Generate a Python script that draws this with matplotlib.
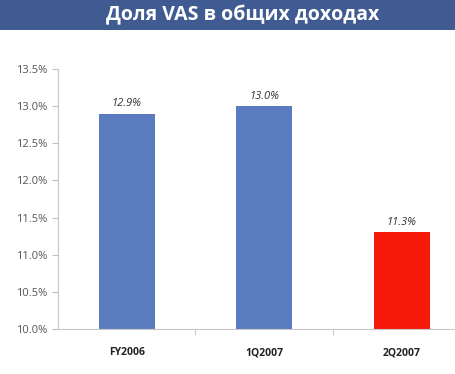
import matplotlib
matplotlib.use("Agg")
import matplotlib.pyplot as plt
from matplotlib.patches import Rectangle

categories = ["FY2006", "1Q2007", "2Q2007"]
values = [12.9, 13.0, 11.3]
value_labels = ["12.9%", "13.0%", "11.3%"]
bar_colors = ["#5A7BBD", "#5A7BBD", "#F51A08"]
yticks = [10.0, 10.5, 11.0, 11.5, 12.0, 12.5, 13.0, 13.5]
title = "Доля VAS в общих доходах"

W, H = 456, 374
fig = plt.figure(figsize=(W / 100, H / 100), dpi=100)
fig.patch.set_facecolor("white")

# title banner
fig.patches.append(Rectangle((0, 1 - 30 / H), 1, 30 / H, transform=fig.transFigure,
                             facecolor="#3F5B91", edgecolor="none"))
fig.text(243 / W, 1 - 15 / H, title, ha="center", va="center", color="white",
         fontsize=14, fontweight="bold", family=["Open Sans", "DejaVu Sans"])

left, right = 58, 456
top, bottom = 69, 329
ax = fig.add_axes([left / W, 1 - bottom / H, (right - left) / W, (bottom - top) / H])
x = list(range(len(categories)))
ax.bar(x, [v - 10.0 for v in values], bottom=10.0, width=0.41, color=bar_colors)
ax.set_ylim(10.0, 13.5)
ax.set_xlim(-0.5, 2.395)
ax.set_yticks(yticks)
ax.set_yticklabels([f"{t:.1f}%" for t in yticks], fontsize=8, color="#555555",
                   family=["Open Sans", "DejaVu Sans"])
ax.set_xticks(x)
ax.set_xticklabels(categories, fontsize=7.5, fontweight="bold", color="#222222",
                   family=["Open Sans", "DejaVu Sans"])
ax.tick_params(axis="x", length=0, pad=13)
ax.set_xticks([0.5, 1.5], minor=True)
ax.tick_params(axis="x", which="minor", length=4, color="#BFBFBF", direction="out")
ax.tick_params(axis="y", length=4, color="#BFBFBF", pad=4)
for s in ["top", "right"]:
    ax.spines[s].set_visible(False)
for s in ["left", "bottom"]:
    ax.spines[s].set_color("#C8C8C8")
    ax.spines[s].set_linewidth(0.8)

for xi, v, lab in zip(x, values, value_labels):
    ax.annotate(lab, (xi, v), xytext=(0, 3), textcoords="offset points",
                ha="center", va="bottom", fontsize=8, style="italic", color="#333333",
                family=["Open Sans", "DejaVu Sans"])

fig.savefig("out.png", dpi=100)
